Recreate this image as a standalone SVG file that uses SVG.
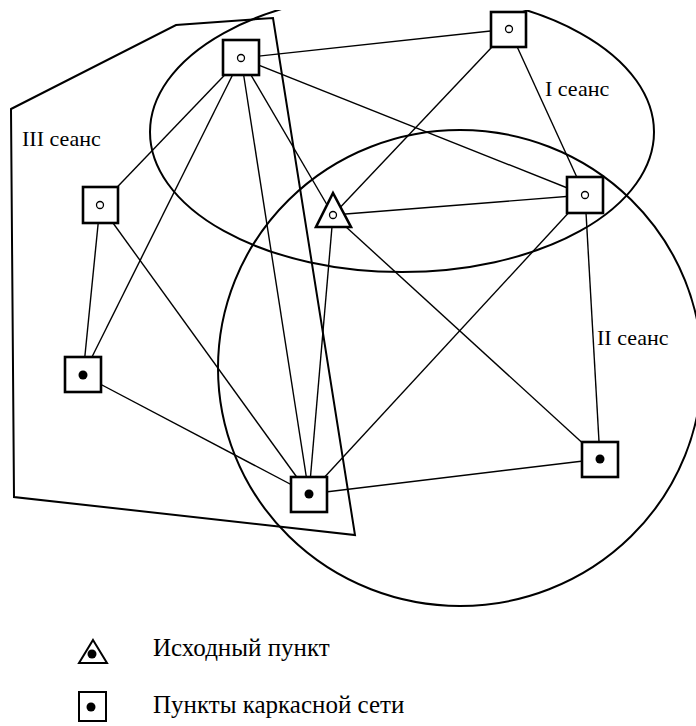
<svg xmlns="http://www.w3.org/2000/svg" width="696" height="726" viewBox="0 0 696 726">
<style>
.edge{stroke:#000;stroke-width:1.4;fill:none}
.region{stroke:#000;stroke-width:2;fill:none}
.box{stroke:#000;stroke-width:2.6;fill:#fff}
.hole{stroke:#000;stroke-width:1.3;fill:#fff}
.dot{fill:#000}
</style>
<defs>
<clipPath id="top"><rect x="0" y="10" width="696" height="716"/></clipPath>
</defs>
<g id="connectors">
<line class="edge" x1="241" y1="58" x2="509" y2="29"/>
<line class="edge" x1="241" y1="58" x2="585" y2="195"/>
<line class="edge" x1="241" y1="58" x2="100" y2="205"/>
<line class="edge" x1="241" y1="58" x2="83" y2="375"/>
<line class="edge" x1="241" y1="58" x2="309" y2="494"/>
<line class="edge" x1="241" y1="58" x2="333" y2="215"/>
<line class="edge" x1="509" y1="29" x2="333" y2="215"/>
<line class="edge" x1="509" y1="29" x2="585" y2="195"/>
<line class="edge" x1="333" y1="215" x2="585" y2="195"/>
<line class="edge" x1="333" y1="215" x2="309" y2="494"/>
<line class="edge" x1="333" y1="215" x2="600" y2="459"/>
<line class="edge" x1="585" y1="195" x2="600" y2="459"/>
<line class="edge" x1="585" y1="195" x2="309" y2="494"/>
<line class="edge" x1="100" y1="205" x2="83" y2="375"/>
<line class="edge" x1="100" y1="205" x2="309" y2="494"/>
<line class="edge" x1="83" y1="375" x2="309" y2="494"/>
<line class="edge" x1="309" y1="494" x2="600" y2="459"/>
</g>
<g id="regions" clip-path="url(#top)">
<ellipse id="session-I" class="region" cx="402" cy="132" rx="252" ry="140"/>
<ellipse id="session-II" class="region" cx="460" cy="368" rx="242" ry="238"/>
<polygon id="session-III" class="region" points="11,109 176,25 273,18 355,535 14,497"/>
</g>
<g id="node-A"><rect class="box" x="223" y="40" width="36" height="35"/><circle class="hole" cx="241" cy="58" r="3.5"/></g>
<g id="node-B"><rect class="box" x="491" y="12" width="35" height="35"/><circle class="hole" cx="509" cy="29" r="3.5"/></g>
<g id="node-C"><rect class="box" x="567" y="177" width="36" height="36"/><circle class="hole" cx="585" cy="195" r="3.5"/></g>
<g id="node-D"><rect class="box" x="83" y="187" width="35" height="36"/><circle class="hole" cx="100" cy="205" r="3.5"/></g>
<g id="node-T"><polygon class="box" points="333,193 351,227 316,227"/><circle class="hole" cx="333" cy="215" r="3.5"/></g>
<g id="node-E"><rect class="box" x="65" y="357" width="36" height="35"/><circle class="dot" cx="83" cy="375" r="4.5"/></g>
<g id="node-F"><rect class="box" x="291" y="477" width="36" height="35"/><circle class="dot" cx="309" cy="494" r="4.5"/></g>
<g id="node-G"><rect class="box" x="582" y="442" width="36" height="35"/><circle class="dot" cx="600" cy="459" r="4.5"/></g>
<g id="labels" font-family="'Liberation Serif', 'DejaVu Serif', serif" font-size="22" fill="#000">
<text x="545" y="96">I сеанс</text>
<text x="22" y="146">III сеанс</text>
<text x="597" y="345">II сеанс</text>
</g>
<g id="legend">
<polygon class="box" style="stroke-width:2" points="93,640 107,663 79,663"/>
<circle class="dot" cx="92" cy="654" r="4.5"/>
<rect class="box" style="stroke-width:2" x="79" y="692" width="27" height="29"/>
<circle class="dot" cx="91" cy="707" r="4.5"/>
<g font-family="'Liberation Serif', 'DejaVu Serif', serif" font-size="25" fill="#000">
<text x="153" y="656">Исходный пункт</text>
<text x="153" y="713">Пункты каркасной сети</text>
</g>
</g>
</svg>
